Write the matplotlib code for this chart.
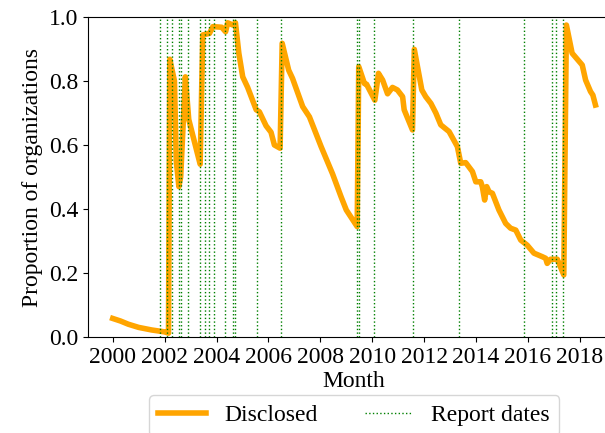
import matplotlib
matplotlib.use("Agg")
import matplotlib.pyplot as plt

plt.rcParams['font.family'] = ['Liberation Serif', 'DejaVu Serif']
plt.rcParams['font.size'] = 17

# month (decimal year) and proportion of organizations that disclosed
months = [2000.0, 2000.3, 2000.6, 2001.0, 2001.5, 2002.0, 2002.15,
          2002.2, 2002.38, 2002.45, 2002.55, 2002.62, 2002.8, 2002.93,
          2003.37, 2003.47, 2003.73, 2003.86, 2004.2, 2004.35, 2004.43,
          2004.63, 2004.73, 2004.86, 2005.01, 2005.2, 2005.53, 2005.65,
          2005.91, 2006.1, 2006.23, 2006.45, 2006.53, 2006.78, 2006.93,
          2007.32, 2007.58, 2008.03, 2008.47, 2008.8, 2009.0, 2009.42,
          2009.48, 2009.7, 2009.78, 2010.1, 2010.24, 2010.4, 2010.59,
          2010.78, 2010.97, 2011.17, 2011.23, 2011.55, 2011.62, 2011.91,
          2012.06, 2012.26, 2012.45, 2012.64, 2012.96, 2013.28, 2013.41,
          2013.6, 2013.86, 2013.99, 2014.18, 2014.24, 2014.33, 2014.41,
          2014.5, 2014.63, 2014.88, 2015.14, 2015.33, 2015.53, 2015.72,
          2015.97, 2016.23, 2016.55, 2016.68, 2016.74, 2016.87, 2017.13,
          2017.38, 2017.48, 2017.7, 2018.09, 2018.22, 2018.41, 2018.5,
          2018.6]
disclosed = [0.058, 0.05, 0.04, 0.03, 0.022, 0.016, 0.012,
             0.868, 0.80, 0.55, 0.47, 0.50, 0.813, 0.68,
             0.54, 0.944, 0.949, 0.97, 0.968, 0.954, 0.982,
             0.975, 0.982, 0.887, 0.813, 0.78, 0.71, 0.704,
             0.66, 0.64, 0.60, 0.59, 0.918, 0.834, 0.808,
             0.72, 0.688, 0.595, 0.51, 0.438, 0.397, 0.345,
             0.845, 0.792, 0.79, 0.74, 0.824, 0.803, 0.76,
             0.78, 0.772, 0.751, 0.71, 0.647, 0.899, 0.772,
             0.751, 0.73, 0.70, 0.663, 0.642, 0.595, 0.543,
             0.545, 0.517, 0.485, 0.485, 0.47, 0.428, 0.47,
             0.454, 0.449, 0.397, 0.355, 0.34, 0.334, 0.303,
             0.287, 0.262, 0.251, 0.246, 0.23, 0.243, 0.243,
             0.194, 0.975, 0.887, 0.85, 0.803, 0.767, 0.756,
             0.725]

report_dates = [2001.81, 2002.09, 2002.30, 2002.55, 2002.62, 2002.90,
                2003.38, 2003.54, 2003.70, 2003.90, 2004.31, 2004.65,
                2004.72, 2005.57, 2006.49, 2009.43, 2009.50, 2010.08,
                2011.58, 2013.35, 2015.85, 2016.93, 2017.09, 2017.36]

fig = plt.figure(figsize=(6.05, 4.33), dpi=100)
ax = fig.add_axes([0.1455, 0.2217, 0.8795, 0.739])

ax.plot(months, disclosed, color='orange', linewidth=4, label='Disclosed')
for i, d in enumerate(report_dates):
    ax.axvline(d, color='green', linestyle=':', linewidth=1,
               label='Report dates' if i == 0 else None)

ax.set_xlim(1999.05, 2019.55)
ax.set_ylim(0, 1.0)
ax.set_xticks(range(2000, 2019, 2))
ax.set_yticks([0.0, 0.2, 0.4, 0.6, 0.8, 1.0])
ax.set_yticklabels(['0.0', '0.2', '0.4', '0.6', '0.8', '1.0'])
ax.set_xlabel('Month', labelpad=2)
ax.set_ylabel('Proportion of organizations')

ax.legend(loc='upper center', bbox_to_anchor=(0.5, -0.145), ncol=2)

fig.savefig('out.png', dpi=100)
